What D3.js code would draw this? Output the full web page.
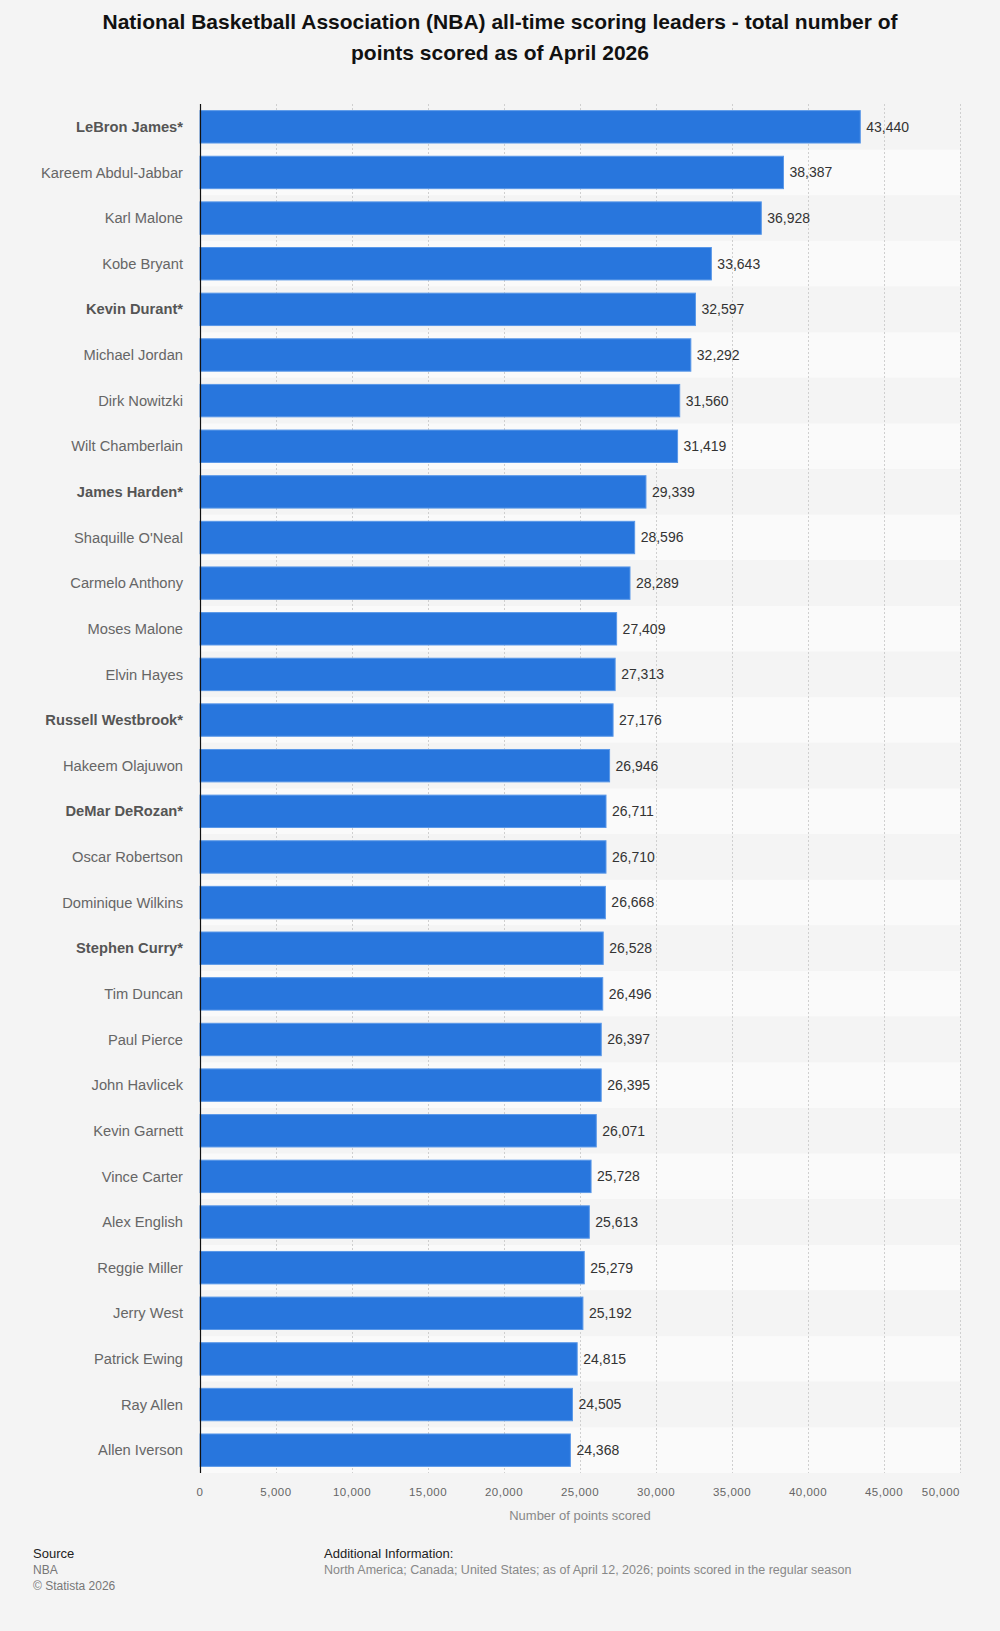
<!DOCTYPE html>
<html>
<head>
<meta charset="utf-8">
<script src="https://cdn.jsdelivr.net/npm/d3@7"></script>
<style>
  html, body { margin: 0; padding: 0; background: #f4f4f4; }
  svg { display: block; font-family: "Liberation Sans", Arial, Helvetica, sans-serif; }
</style>
</head>
<body>
<svg id="chart" width="1000" height="1631"></svg>
<script>
const players = [
  "LeBron James*", "Kareem Abdul-Jabbar", "Karl Malone", "Kobe Bryant", "Kevin Durant*",
  "Michael Jordan", "Dirk Nowitzki", "Wilt Chamberlain", "James Harden*", "Shaquille O'Neal",
  "Carmelo Anthony", "Moses Malone", "Elvin Hayes", "Russell Westbrook*", "Hakeem Olajuwon",
  "DeMar DeRozan*", "Oscar Robertson", "Dominique Wilkins", "Stephen Curry*", "Tim Duncan",
  "Paul Pierce", "John Havlicek", "Kevin Garnett", "Vince Carter", "Alex English",
  "Reggie Miller", "Jerry West", "Patrick Ewing", "Ray Allen", "Allen Iverson"
];
const points = [
  43440, 38387, 36928, 33643, 32597,
  32292, 31560, 31419, 29339, 28596,
  28289, 27409, 27313, 27176, 26946,
  26711, 26710, 26668, 26528, 26496,
  26397, 26395, 26071, 25728, 25613,
  25279, 25192, 24815, 24505, 24368
];
const activePlayers = ["LeBron James*", "Kevin Durant*", "James Harden*", "Russell Westbrook*", "DeMar DeRozan*", "Stephen Curry*"];
const xTicks = [0, 5000, 10000, 15000, 20000, 25000, 30000, 35000, 40000, 45000, 50000];
const titleLines = [
  "National Basketball Association (NBA) all-time scoring leaders - total number of",
  "points scored as of April 2026"
];
const xAxisTitle = "Number of points scored";

const data = players.map((p, i) => ({ name: p, value: points[i] }));
const fmt = d3.format(",");

const svg = d3.select("#chart");
const plotLeft = 200, plotRight = 960, plotTop = 104, plotBottom = 1473;

const x = d3.scaleLinear().domain([0, 50000]).range([plotLeft, plotRight]);
const y = d3.scaleBand().domain(players).range([plotTop, plotBottom]).paddingInner(0.29).paddingOuter(0.145);
const step = y.step();

// background
svg.append("rect").attr("width", 1000).attr("height", 1631).attr("fill", "#f4f4f4");

// title
svg.append("g").selectAll("text").data(titleLines).join("text")
  .attr("x", 500).attr("y", (d, i) => 29 + i * 31)
  .attr("text-anchor", "middle")
  .attr("font-size", 21).attr("font-weight", "bold").attr("fill", "#111")
  .text(d => d);

// alternating row bands
svg.append("g").selectAll("rect").data(data).join("rect")
  .attr("x", plotLeft).attr("width", plotRight - plotLeft)
  .attr("y", (d, i) => plotTop + i * step).attr("height", step)
  .attr("fill", (d, i) => i % 2 ? "#fafafa" : "#f4f4f4");

// gridlines
svg.append("g").selectAll("line").data(xTicks.filter(t => t > 0)).join("line")
  .attr("x1", d => x(d) + 0.5).attr("x2", d => x(d) + 0.5)
  .attr("y1", plotTop).attr("y2", plotBottom)
  .attr("stroke", "#cfcfcf").attr("stroke-width", 1).attr("stroke-dasharray", "2,2");

// bars
svg.append("g").selectAll("rect").data(data).join("rect")
  .attr("x", x(0)).attr("y", d => y(d.name))
  .attr("width", d => x(d.value) - x(0)).attr("height", y.bandwidth())
  .attr("fill", "#2876dd").attr("stroke", "#5a98e8").attr("stroke-width", 1);

// axis line
svg.append("line").attr("x1", plotLeft + 0.5).attr("x2", plotLeft + 0.5).attr("y1", plotTop).attr("y2", plotBottom)
  .attr("stroke", "#111").attr("stroke-width", 1.2);

// category labels
svg.append("g").selectAll("text").data(data).join("text")
  .attr("x", 183).attr("y", d => y(d.name) + y.bandwidth() / 2)
  .attr("dy", "0.35em").attr("text-anchor", "end")
  .attr("font-size", 14.7)
  .attr("font-weight", d => activePlayers.includes(d.name) ? "bold" : "normal")
  .attr("fill", d => activePlayers.includes(d.name) ? "#555" : "#666")
  .text(d => d.name);

// value labels
svg.append("g").selectAll("text").data(data).join("text")
  .attr("x", d => x(d.value) + 6).attr("y", d => y(d.name) + y.bandwidth() / 2)
  .attr("dy", "0.35em").attr("font-size", 14).attr("fill", "#333")
  .text(d => fmt(d.value));

// x tick labels
svg.append("g").selectAll("text").data(xTicks).join("text")
  .attr("x", d => x(d))
  .attr("y", 1496)
  .attr("text-anchor", d => d === 50000 ? "end" : "middle")
  .attr("font-size", 11.5).attr("fill", "#666").attr("letter-spacing", "0.5")
  .text(d => fmt(d));

// x axis title
svg.append("text").attr("x", 580).attr("y", 1520).attr("text-anchor", "middle")
  .attr("font-size", 13).attr("fill", "#888").text(xAxisTitle);

// footer
const foot = svg.append("g").attr("font-size", 13);
foot.append("text").attr("x", 33).attr("y", 1558).attr("fill", "#222").text("Source");
foot.append("text").attr("x", 33).attr("y", 1574).attr("fill", "#777").attr("font-size", 12).text("NBA");
foot.append("text").attr("x", 33).attr("y", 1590).attr("fill", "#777").attr("font-size", 12).text("© Statista 2026");
foot.append("text").attr("x", 324).attr("y", 1558).attr("fill", "#222").text("Additional Information:");
foot.append("text").attr("x", 324).attr("y", 1574).attr("fill", "#888").attr("font-size", 12.5)
  .text("North America; Canada; United States; as of April 12, 2026; points scored in the regular season");
</script>
</body>
</html>
